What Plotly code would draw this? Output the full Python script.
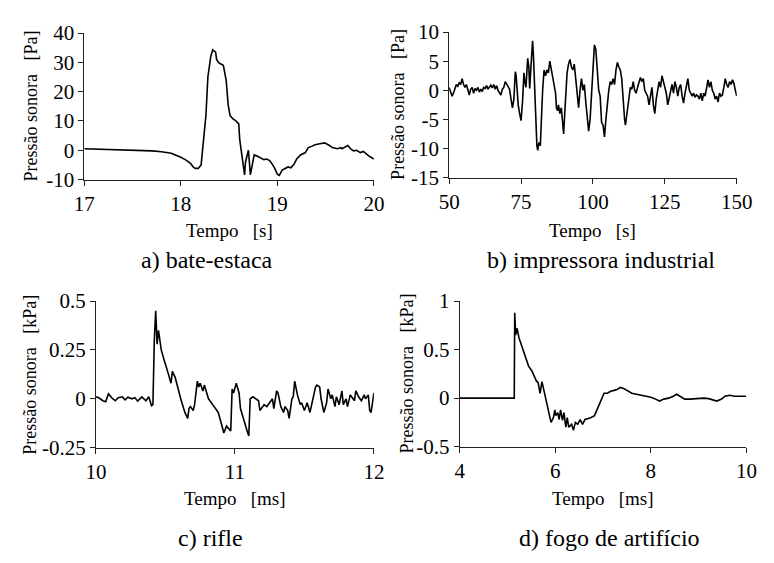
import plotly.graph_objects as go

W, H = 774, 563

# ---------------- data ----------------
# a) bate-estaca  (tempo [s], pressão [Pa])
t_a = [17.00, 17.15, 17.30, 17.45, 17.60, 17.70, 17.80, 17.90, 18.00, 18.05, 18.10, 18.13, 18.15, 18.18,
       18.21, 18.23, 18.26, 18.28, 18.31, 18.33, 18.36, 18.37, 18.39, 18.41, 18.44, 18.47, 18.49, 18.51,
       18.54, 18.57, 18.60, 18.61, 18.63, 18.66, 18.67, 18.70, 18.71, 18.72, 18.74, 18.76, 18.79, 18.82,
       18.86, 18.89, 18.92, 18.95, 18.97, 19.00, 19.02, 19.05, 19.07, 19.11, 19.14, 19.17, 19.20, 19.24,
       19.29, 19.32, 19.36, 19.39, 19.44, 19.49, 19.54, 19.57, 19.62, 19.66, 19.67, 19.71, 19.73, 19.76,
       19.79, 19.82, 19.86, 19.89, 19.92, 19.95, 19.97, 20.00]
p_a = [0.5, 0.4, 0.3, 0.2, 0.0, -0.2, -0.5, -1.0, -2.4, -3.3, -4.5, -5.8, -6.2, -6.2,
       -5.0, 2.0, 12.0, 25.0, 32.0, 34.3, 33.5, 31.0, 30.0, 29.5, 29.0, 23.8, 15.6, 11.8,
       10.7, 10.0, 9.0, 3.6, -1.9, -8.4, -4.0, 0.0, -4.0, -8.4, -5.0, -1.6, -2.0, -2.4,
       -3.2, -3.0, -3.5, -4.9, -6.0, -8.2, -8.6, -6.8, -6.4, -5.7, -6.0, -4.9, -3.0, -1.6,
       -0.8, 0.9, 1.4, 1.9, 2.2, 2.5, 1.6, 0.9, 0.5, 0.9, 0.5, 1.4, 1.6, 0.5,
       -0.2, 0.0, -0.8, -0.4, -1.3, -2.0, -2.4, -3.0]

# b) impressora industrial  (tempo [s], pressão [Pa])
t_b = [50, 50.5, 51, 51.5, 52, 52.5, 53, 53.5, 54, 54.5, 55, 55.5, 56, 56.5, 57, 57.5, 58, 58.5, 59, 59.5,
       60, 60.5, 61, 61.5, 62, 62.5, 63, 63.5, 64, 64.5, 65, 65.5, 66, 66.5, 67, 67.5, 68, 68.5, 69, 69.5,
       70, 70.5, 71, 71.5, 72, 72.5, 73, 73.3, 73.7, 74, 74.5, 75, 75.5, 76, 76.3, 76.7, 77, 77.3, 77.7, 78,
       78.5, 79, 79.3, 79.7, 80, 80.5, 80.8, 81.2, 81.7, 82, 82.5, 83, 83.5, 84, 84.5, 85, 85.5, 86, 86.5, 87,
       87.3, 87.7, 88, 88.5, 89, 89.5, 89.8, 90.3, 90.7, 91, 91.5, 92, 92.5, 93, 93.5, 94, 94.5, 95, 95.5, 96,
       96.5, 97, 97.5, 98, 98.5, 99, 99.5, 100, 100.5, 101, 101.5, 102, 102.5, 103, 103.5, 104, 104.5, 105,
       105.5, 106, 106.5, 107, 107.5, 108, 108.5, 109, 109.5, 110, 110.5, 111, 111.3, 111.7, 112, 112.5, 113,
       113.5, 114, 114.5, 115, 115.5, 116, 116.5, 117, 117.5, 118, 118.5, 119, 119.5, 120, 120.5, 121, 121.5,
       122, 122.5, 123, 123.5, 124, 124.5, 125, 125.5, 126, 126.5, 127, 127.5, 128, 128.5, 129, 129.5, 130,
       130.5, 131, 131.5, 132, 132.5, 133, 133.5, 134, 134.5, 135, 135.5, 136, 136.5, 137, 137.5, 138, 138.5,
       139, 139.5, 140, 140.5, 141, 141.5, 142, 142.5, 143, 143.5, 144, 144.5, 145, 145.5, 146, 146.5, 147,
       147.5, 148, 148.5, 149, 149.5, 150]
p_b = [0.5, -0.5, -1.0, -0.5, 0.3, 1.0, 0.7, 1.3, 1.0, 2.0, 1.0, 0.5, 1.0, 0.2, -0.8, 0.2, 0.5, -0.5, 0.3, 0.0,
       0.5, -0.3, 0.2, -0.2, 0.5, 0.3, 0.8, 0.2, 0.5, 0.9, 0.4, 1.0, 0.2, 0.8, 0.0, -0.5, -0.8, 0.2, 0.5, 1.5,
       1.0, 0.5, 0.2, -1.5, -3.0, -1.5, 3.2, 2.5, -0.5, -2.5, -4.0, -5.2, -2.0, 3.0, 1.5, 0.5, 3.0, 5.5, 4.0, 0.3,
       4.5, 8.5, 6.0, 0.0, -5.0, -9.5, -10.3, -9.0, -9.5, -5.0, 0.0, 3.5, 2.5, 3.5, 3.0, 5.0, 3.5, 2.5, 1.0, -0.5,
       -3.0, -3.5, -2.5, -4.0, -3.0, -6.5, -7.5, -3.0, 0.0, 3.0, 4.5, 5.3, 4.0, 3.5, 4.5, 2.0, -1.0, -3.0, 0.0, 2.0,
       0.0, 1.0, -2.0, -5.0, -7.0, -5.0, 0.0, 4.0, 7.8, 7.0, 3.0, 0.0, -1.0, -5.5, -6.0, -8.0, -5.0, -2.0,
       0.0, 1.5, 1.0, 2.0, 1.0, 3.5, 4.8, 4.0, 3.5, 2.0, -2.0, -5.0, -6.0, -4.5, -3.0, -1.0, 0.5,
       0.2, 1.5, 0.0, -0.5, 0.5, 1.5, 2.2, 1.5, 2.0, 0.0, -0.5, -1.0, -2.5, -1.0, 0.5, -2.5, -4.0,
       -1.5, 0.0, 1.5, 0.5, 2.5, 1.5, 0.5, -0.5, -2.5, -1.5, 0.0, 1.0, -0.5, 1.5, 0.5, -1.0, 0.5,
       1.0, -1.0, -2.2, -0.5, 0.5, 2.0, 0.0, -0.5, -1.0, -0.5, -1.2, -0.8, -1.0, -1.5, -0.5, -1.8, -0.5,
       -1.0, 0.5, 1.8, 0.5, 1.5, 0.0, -0.5, -1.5, -1.0, -2.0, -0.5, -1.0, -0.8, 0.5, 2.0, 1.0, 0.5,
       1.5, 1.0, 1.8, 1.2, 0.0, -1.0]

# c) rifle  (tempo [ms], pressão [kPa])
t_c = [10.00, 10.02, 10.05, 10.07, 10.09, 10.12, 10.14, 10.16, 10.19, 10.21, 10.23, 10.26, 10.28, 10.30, 10.33,
       10.36, 10.38, 10.40, 10.41, 10.42, 10.43, 10.44, 10.45, 10.46, 10.47, 10.49, 10.50, 10.52, 10.54, 10.55,
       10.57, 10.59, 10.61, 10.64, 10.66, 10.67, 10.68, 10.70, 10.71, 10.73, 10.74, 10.75, 10.77, 10.78, 10.80,
       10.81, 10.84, 10.86, 10.88, 10.90, 10.92, 10.94, 10.95, 10.97, 10.98, 10.99, 11.01, 11.03, 11.04, 11.07,
       11.09, 11.10, 11.11, 11.13, 11.15, 11.17, 11.18, 11.21, 11.23, 11.25, 11.27, 11.28, 11.30, 11.31, 11.33,
       11.35, 11.36, 11.38, 11.39, 11.41, 11.42, 11.43, 11.45, 11.47, 11.48, 11.50, 11.52, 11.54, 11.56, 11.58,
       11.59, 11.61, 11.62, 11.64, 11.66, 11.67, 11.69, 11.70, 11.72, 11.73, 11.75, 11.77, 11.78, 11.80, 11.81,
       11.83, 11.85, 11.86, 11.87, 11.89, 11.91, 11.93, 11.94, 11.96, 11.97, 11.98, 12.00]
p_c = [0.010, 0.005, -0.010, -0.015, 0.025, 0.000, -0.010, 0.005, 0.010, -0.005, 0.008, 0.000, 0.006, -0.012, 0.010,
       -0.010, 0.010, -0.035, -0.030, 0.300, 0.450, 0.280, 0.350, 0.300, 0.250, 0.200, 0.180, 0.130, 0.080, 0.140,
       0.110, 0.050, 0.000, -0.070, -0.100, -0.050, -0.040, -0.060, -0.030, 0.090, 0.060, 0.080, 0.040, 0.070, 0.030,
       0.000, -0.030, -0.050, -0.070, -0.120, -0.175, -0.140, -0.150, -0.165, 0.050, 0.030, 0.080, 0.030, -0.050, -0.130,
       -0.170, -0.190, 0.000, 0.010, 0.000, -0.010, -0.060, -0.030, -0.040, -0.020, 0.000, -0.050, 0.040, 0.030, -0.040,
       -0.070, -0.040, -0.060, -0.100, 0.000, 0.010, 0.090, 0.020, -0.030, -0.020, -0.060, -0.020, -0.070, 0.000, 0.060,
       0.070, 0.060, 0.000, -0.070, -0.020, 0.050, 0.000, 0.020, -0.040, 0.010, -0.030, 0.040, -0.030, 0.000, -0.040,
       0.020, 0.000, -0.010, 0.040, 0.010, -0.010, 0.020, 0.000, 0.020, -0.060, -0.070, 0.030]

# d) fogo de artifício  (tempo [ms], pressão [kPa])
t_d = [4.00, 4.50, 5.00, 5.14, 5.15, 5.17, 5.20, 5.24, 5.31, 5.37, 5.44, 5.51, 5.54, 5.60, 5.64, 5.68, 5.72,
       5.76, 5.81, 5.87, 5.91, 5.96, 5.99, 6.01, 6.05, 6.08, 6.11, 6.15, 6.18, 6.22, 6.25, 6.28, 6.34, 6.38,
       6.42, 6.47, 6.52, 6.57, 6.62, 6.69, 6.75, 6.82, 6.89, 6.96, 7.02, 7.09, 7.16, 7.23, 7.29, 7.36, 7.43,
       7.50, 7.60, 7.70, 7.80, 7.90, 8.00, 8.10, 8.18, 8.27, 8.37, 8.47, 8.54, 8.61, 8.71, 8.81, 8.91, 9.01,
       9.11, 9.21, 9.31, 9.38, 9.48, 9.55, 9.65, 9.75, 9.85, 10.00]
p_d = [0.000, 0.000, 0.000, 0.000, 0.880, 0.650, 0.720, 0.620, 0.520, 0.420, 0.330, 0.280, 0.250, 0.180, 0.160, 0.050, 0.170,
       0.080, -0.020, -0.150, -0.250, -0.200, -0.120, -0.180, -0.150, -0.220, -0.120, -0.230, -0.150, -0.300, -0.200, -0.300, -0.270, -0.330,
       -0.250, -0.270, -0.220, -0.270, -0.220, -0.210, -0.200, -0.180, -0.100, -0.020, 0.050, 0.050, 0.070, 0.080, 0.090, 0.110, 0.100,
       0.080, 0.050, 0.040, 0.030, 0.020, 0.010, -0.010, -0.030, -0.010, 0.000, 0.020, 0.040, 0.020, -0.010, -0.010, -0.005, 0.000,
       0.000, -0.005, -0.020, -0.030, -0.010, 0.020, 0.030, 0.020, 0.020, 0.020]

# tick labels
xt_a = [17, 18, 19, 20]
yt_a = [-10, 0, 10, 20, 30, 40]
yl_a = ["-10", "0", "10", "20", "30", "40"]
xt_b = [50, 75, 100, 125, 150]
yt_b = [-15, -10, -5, 0, 5, 10]
yl_b = ["-15", "-10", "-5", "0", "5", "10"]
xt_c = [10, 11, 12]
yt_c = [-0.25, 0, 0.25, 0.5]
yl_c = ["-0.25", "0", "0.25", "0.5"]
xt_d = [4, 6, 8, 10]
yt_d = [-0.5, 0, 0.5, 1]
yl_d = ["-0.5", "0", "0.5", "1"]

captions = ["a) bate-estaca", "b) impressora industrial", "c) rifle", "d) fogo de artifício"]
ytitles = ["Pressão sonora\u00a0\u00a0\u00a0[Pa]", "Pressão sonora\u00a0\u00a0\u00a0[Pa]",
           "Pressão sonora\u00a0\u00a0\u00a0[kPa]", "Pressão sonora\u00a0\u00a0\u00a0[kPa]"]
xtitles = ["Tempo\u00a0\u00a0\u00a0[s]", "Tempo\u00a0\u00a0\u00a0[s]",
           "Tempo\u00a0\u00a0\u00a0[ms]", "Tempo\u00a0\u00a0\u00a0[ms]"]

# ---------------- layout geometry (pixels) ----------------
FONT = "Liberation Serif"
# plot boxes: (left, right, top, bottom) in px
boxes = [(76, 376, 22, 175), (454, 752, 21, 173), (88, 376, 302, 455), (465, 762, 302, 454)]
ranges = [((17, 20), (-10, 40)), ((50, 150), (-15, 10)), ((10, 12), (-0.25, 0.5)), ((4, 10), (-0.5, 1))]
xticks = [(xt_a, [str(v) for v in xt_a]), (xt_b, [str(v) for v in xt_b]),
          (xt_c, [str(v) for v in xt_c]), (xt_d, [str(v) for v in xt_d])]
yticks = [(yt_a, yl_a), (yt_b, yl_b), (yt_c, yl_c), (yt_d, yl_d)]
series = [(t_a, p_a), (t_b, p_b), (t_c, p_c), (t_d, p_d)]
ytitle_x = [21, 401, 20, 410]
xtitle_y = [228, 228, 508, 508]
cap_pos = [(203, 259), (611, 259), (207, 549), (620, 549)]

fig = go.Figure()
layout = dict(width=W, height=H, autosize=False, margin=dict(l=0, r=0, t=0, b=0, pad=0),
              paper_bgcolor="white", plot_bgcolor="white", showlegend=False,
              font=dict(family=FONT, color="black"))
annotations = []

for i in range(4):
    n = "" if i == 0 else str(i + 1)
    L, R, T, B = boxes[i]
    xs, ys = series[i]
    fig.add_trace(go.Scatter(x=xs, y=ys, mode="lines", xaxis="x" + n, yaxis="y" + n,
                             line=dict(color="black", width=1.6), hoverinfo="skip"))
    axcommon = dict(showline=True, linecolor="#222222", linewidth=1, showgrid=False, zeroline=False,
                    ticks="outside", ticklen=5, tickwidth=1, tickcolor="#222222",
                    tickfont=dict(family=FONT, size=21, color="black"))
    layout["xaxis" + n] = dict(axcommon, domain=[L / W, R / W], anchor="y" + n,
                               range=list(ranges[i][0]), tickmode="array",
                               tickvals=xticks[i][0], ticktext=xticks[i][1])
    layout["yaxis" + n] = dict(axcommon, domain=[1 - B / H, 1 - T / H], anchor="x" + n,
                               range=list(ranges[i][1]), tickmode="array",
                               tickvals=yticks[i][0], ticktext=yticks[i][1])
    annotations.append(dict(text=ytitles[i], xref="paper", yref="paper", x=ytitle_x[i] / W,
                            y=1 - (T + B) / 2 / H, textangle=-90, showarrow=False,
                            xanchor="center", yanchor="middle",
                            font=dict(family=FONT, size=18, color="black")))
    annotations.append(dict(text=xtitles[i], xref="paper", yref="paper", x=(L + R) / 2 / W,
                            y=1 - xtitle_y[i] / H, showarrow=False, xanchor="center", yanchor="middle",
                            font=dict(family=FONT, size=19, color="black")))
    annotations.append(dict(text=captions[i], xref="paper", yref="paper", x=cap_pos[i][0] / W,
                            y=1 - cap_pos[i][1] / H, showarrow=False, xanchor="center", yanchor="middle",
                            font=dict(family=FONT, size=24, color="black")))

layout["annotations"] = annotations
fig.update_layout(**layout)
fig.write_html("out.html", config={"displayModeBar": False, "responsive": False},
               post_script="document.body.style.margin='0';document.body.style.overflow='hidden';")
